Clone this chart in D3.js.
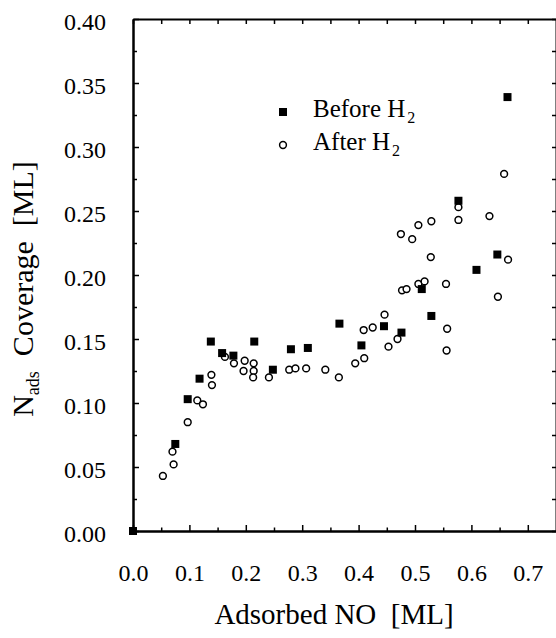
<!DOCTYPE html>
<html>
<head>
<meta charset="utf-8">
<script src="https://cdn.jsdelivr.net/npm/d3@7"></script>
<style>
  body { margin: 0; background: #fff; }
  text { font-family: "Liberation Serif", "Times New Roman", serif; fill: #000; white-space: pre; }
</style>
</head>
<body>
<div id="chart"></div>
<script>
// before H2 exposure (filled squares)
var beforeX = [0.000, 0.075, 0.097, 0.118, 0.138, 0.158, 0.178, 0.215, 0.248, 0.280, 0.310,
               0.366, 0.405, 0.445, 0.476, 0.512, 0.529, 0.577, 0.609, 0.646, 0.664];
var beforeY = [0.000, 0.068, 0.103, 0.119, 0.148, 0.139, 0.137, 0.148, 0.126, 0.142, 0.143,
               0.162, 0.145, 0.160, 0.155, 0.189, 0.168, 0.258, 0.204, 0.216, 0.339];

// after H2 exposure (open circles)
var afterX = [0.053, 0.070, 0.072, 0.097, 0.114, 0.124, 0.139, 0.140, 0.163, 0.179, 0.198,
              0.196, 0.214, 0.214, 0.213, 0.241, 0.277, 0.288, 0.307, 0.341, 0.365, 0.394,
              0.410, 0.409, 0.425, 0.446, 0.453, 0.469, 0.477, 0.485, 0.475, 0.495, 0.506,
              0.506, 0.517, 0.528, 0.529, 0.555, 0.557, 0.556, 0.577, 0.577, 0.632, 0.647,
              0.658, 0.665];
var afterY = [0.043, 0.062, 0.052, 0.085, 0.102, 0.099, 0.122, 0.114, 0.136, 0.131, 0.133,
              0.125, 0.131, 0.125, 0.120, 0.120, 0.126, 0.127, 0.127, 0.126, 0.120, 0.131,
              0.135, 0.157, 0.159, 0.169, 0.144, 0.150, 0.188, 0.189, 0.232, 0.228, 0.193,
              0.239, 0.195, 0.214, 0.242, 0.193, 0.158, 0.141, 0.253, 0.243, 0.246, 0.183,
              0.279, 0.212];

var xTicks = [0.0, 0.1, 0.2, 0.3, 0.4, 0.5, 0.6, 0.7];
var yTicks = [0.00, 0.05, 0.10, 0.15, 0.20, 0.25, 0.30, 0.35, 0.40];

var width = 556, height = 638;
var pLeft = 133, pRight = 556, pTop = 19, pBottom = 531;
var serif = "'Liberation Serif', 'Times New Roman', serif";

var svg = d3.select("#chart")
    .append("svg")
    .attr("width", width)
    .attr("height", height);

var x = d3.scaleLinear().domain([0, 0.75]).range([pLeft, pRight]);
var y = d3.scaleLinear().domain([0, 0.4]).range([pBottom, pTop]);

var xMinor = d3.range(0.05, 0.75, 0.1);
var yMinor = d3.range(0.025, 0.4, 0.05);

// bottom axis, ticks inward
svg.append("g")
    .attr("transform", "translate(0," + pBottom + ")")
    .call(d3.axisBottom(x).tickValues(xTicks).tickSizeInner(-6).tickSizeOuter(0).tickFormat(d3.format(".1f")))
    .attr("font-family", serif)
    .call(function(g) {
        g.select(".domain").attr("stroke-width", 2.5);
        g.selectAll(".tick line").attr("stroke-width", 1.5);
        g.selectAll(".tick text").attr("y", 42).attr("dy", "0.35em")
            .style("font-family", serif).style("font-size", "24px");
    });
svg.append("g")
    .attr("transform", "translate(0," + pBottom + ")")
    .call(d3.axisBottom(x).tickValues(xMinor).tickSize(-3.5).tickFormat(""))
    .call(function(g) { g.select(".domain").remove(); g.selectAll("line").attr("stroke-width", 1.5); });

// left axis
svg.append("g")
    .attr("transform", "translate(" + pLeft + ",0)")
    .call(d3.axisLeft(y).tickValues(yTicks).tickSizeInner(-6).tickSizeOuter(0).tickFormat(d3.format(".2f")))
    .attr("font-family", serif)
    .call(function(g) {
        g.select(".domain").attr("stroke-width", 2.5);
        g.selectAll(".tick line").attr("stroke-width", 1.5);
        g.selectAll(".tick text").attr("x", -27).attr("dy", "0.45em")
            .style("font-family", serif).style("font-size", "24px");
    });
svg.append("g")
    .attr("transform", "translate(" + pLeft + ",0)")
    .call(d3.axisLeft(y).tickValues(yMinor).tickSize(-4).tickFormat(""))
    .call(function(g) { g.select(".domain").remove(); g.selectAll("line").attr("stroke-width", 1.5); });

// top and right, ticks only
svg.append("g")
    .attr("transform", "translate(0," + pTop + ")")
    .call(d3.axisTop(x).tickValues(xTicks.concat(xMinor)).tickSizeInner(-5).tickSizeOuter(0).tickFormat(""))
    .call(function(g) { g.select(".domain").attr("stroke-width", 2); g.selectAll("line").attr("stroke-width", 1.5); });
svg.append("g")
    .attr("transform", "translate(" + pRight + ",0)")
    .call(d3.axisRight(y).tickValues(yTicks.concat(yMinor)).tickSizeInner(-4).tickSizeOuter(0).tickFormat(""))
    .call(function(g) { g.select(".domain").attr("stroke-width", 2); g.selectAll("line").attr("stroke-width", 1.5); });

// data
var before = beforeX.map(function(d, i) { return {x: d, y: beforeY[i]}; });
var after = afterX.map(function(d, i) { return {x: d, y: afterY[i]}; });

svg.selectAll("circle.after")
    .data(after)
    .enter()
    .append("circle")
    .attr("class", "after")
    .attr("cx", function(d) { return x(d.x); })
    .attr("cy", function(d) { return y(d.y); })
    .attr("r", 3.4)
    .attr("fill", "#fff")
    .attr("stroke", "#000")
    .attr("stroke-width", 1.5);

svg.selectAll("rect.before")
    .data(before)
    .enter()
    .append("rect")
    .attr("class", "before")
    .attr("x", function(d) { return x(d.x) - 4; })
    .attr("y", function(d) { return y(d.y) - 4; })
    .attr("width", 8)
    .attr("height", 8)
    .attr("fill", "#000");

// legend
svg.append("rect")
    .attr("x", 279).attr("y", 108).attr("width", 8).attr("height", 8)
    .attr("fill", "#000");
var t1 = svg.append("text").attr("x", 313).attr("y", 117).attr("font-size", 25);
t1.append("tspan").text("Before H");
t1.append("tspan").text("2").attr("font-size", 16).attr("dx", 2).attr("dy", 6);

svg.append("circle")
    .attr("cx", 283).attr("cy", 145).attr("r", 3.4)
    .attr("fill", "#fff").attr("stroke", "#000").attr("stroke-width", 1.5);
var t2 = svg.append("text").attr("x", 313).attr("y", 150).attr("font-size", 25);
t2.append("tspan").text("After H");
t2.append("tspan").text("2").attr("font-size", 16).attr("dx", 2).attr("dy", 6);

// axis titles
svg.append("text")
    .attr("x", 334)
    .attr("y", 624)
    .attr("font-size", 29)
    .attr("text-anchor", "middle")
    .text("Adsorbed NO  [ML]");

var yt = svg.append("text")
    .attr("transform", "translate(33,289) rotate(-90)")
    .attr("font-size", 30)
    .attr("text-anchor", "middle");
yt.append("tspan").text("N");
yt.append("tspan").text("ads").attr("font-size", 18).attr("dy", 6);
yt.append("tspan").text("  Coverage  [ML]").attr("dy", -6);
</script>
</body>
</html>
